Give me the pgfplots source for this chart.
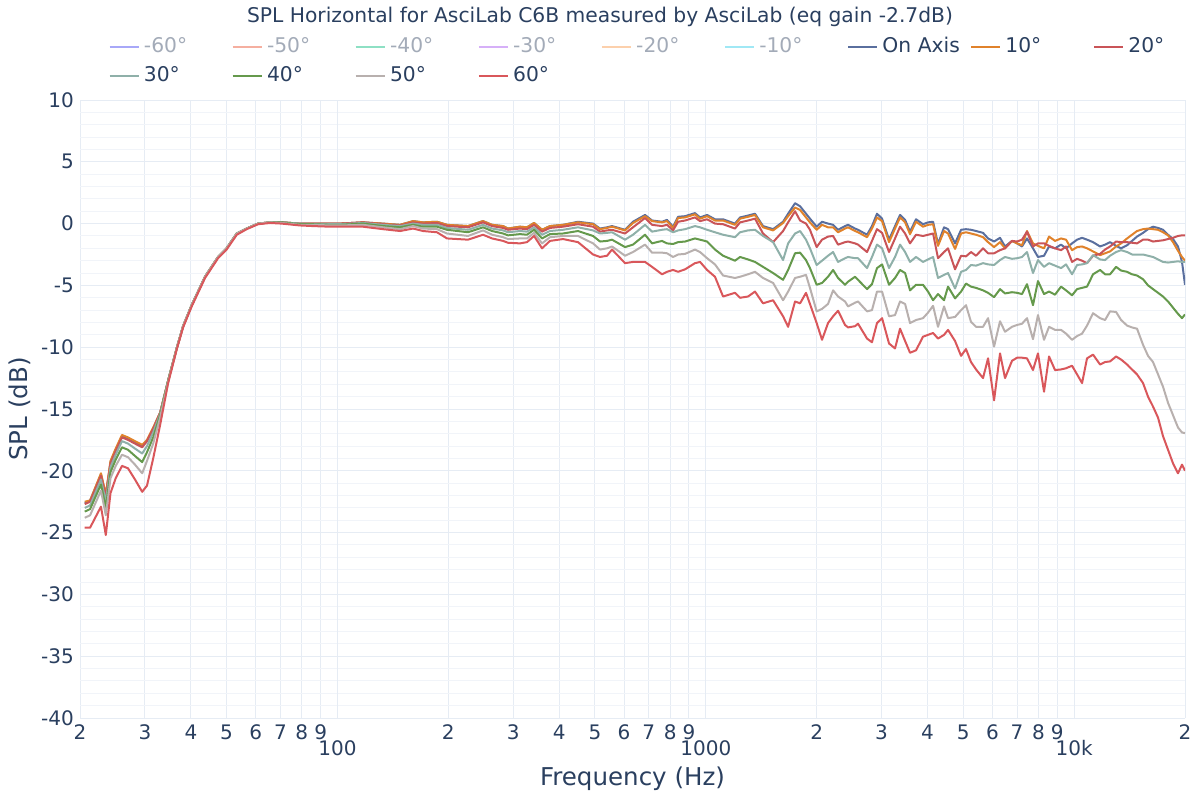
\documentclass[border=0pt]{standalone}
\usepackage{fontspec}
\setmainfont{DejaVu Sans}
\usepackage{pgfplots}
\usepackage{pgfplotstable}
\pgfplotsset{compat=1.18}

\definecolor{txt}{HTML}{2A3F5F}
\definecolor{hid}{HTML}{A3ABB8}
\definecolor{gridc}{HTML}{E6ECF4}
\definecolor{gridm}{HTML}{F1F4F9}
\definecolor{c0}{HTML}{5A6F9E}
\definecolor{c10}{HTML}{E0822B}
\definecolor{c20}{HTML}{C95458}
\definecolor{c30}{HTML}{8FB0A9}
\definecolor{c40}{HTML}{65994C}
\definecolor{c50}{HTML}{B8B0AE}
\definecolor{c60}{HTML}{D9575B}
\definecolor{h60}{HTML}{A8A8F8}
\definecolor{h50}{HTML}{F5AFA0}
\definecolor{h40}{HTML}{8EE0C4}
\definecolor{h30}{HTML}{D6B0F8}
\definecolor{h20}{HTML}{FCD0AC}
\definecolor{h10}{HTML}{A0E8F5}

% SPL (dB) per angle
\pgfplotstableread{
f on d10 d20 d30 d40 d50 d60
20.6 -22.6 -22.5 -22.7 -23.0 -23.3 -23.8 -24.6
21.3 -22.4 -22.4 -22.5 -22.8 -23.1 -23.6 -24.6
22.8 -20.3 -20.2 -20.4 -20.7 -21.1 -21.6 -22.9
23.5 -22.0 -21.9 -22.1 -22.5 -23.0 -23.6 -25.2
24.2 -19.3 -19.2 -19.4 -19.7 -20.1 -20.6 -21.8
25.0 -18.3 -18.2 -18.4 -18.7 -19.1 -19.6 -20.6
26.0 -17.2 -17.1 -17.3 -17.6 -18.1 -18.7 -19.6
27.0 -17.4 -17.3 -17.5 -17.8 -18.3 -18.9 -19.8
28.2 -17.7 -17.6 -17.8 -18.2 -18.8 -19.5 -20.7
29.5 -18.0 -17.9 -18.1 -18.6 -19.3 -20.2 -21.7
30.4 -17.6 -17.5 -17.6 -18.0 -18.5 -19.2 -21.2
31.6 -16.6 -16.5 -16.6 -16.9 -17.3 -17.8 -19.0
33.0 -15.3 -15.3 -15.3 -15.4 -15.5 -15.7 -16.3
34.7 -12.7 -12.7 -12.7 -12.7 -12.7 -12.8 -12.9
36.6 -10.1 -10.1 -10.1 -10.1 -10.1 -10.1 -10.2
38.1 -8.3 -8.3 -8.3 -8.3 -8.3 -8.3 -8.4
40.2 -6.6 -6.6 -6.6 -6.6 -6.6 -6.6 -6.7
43.7 -4.3 -4.3 -4.3 -4.3 -4.3 -4.3 -4.4
47.4 -2.7 -2.7 -2.7 -2.7 -2.7 -2.7 -2.8
50.0 -2.0 -2.0 -2.0 -2.0 -2.0 -2.0 -2.1
53.3 -0.8 -0.8 -0.8 -0.8 -0.8 -0.8 -0.9
56.7 -0.4 -0.4 -0.4 -0.4 -0.4 -0.4 -0.45
60.9 0.0 0.0 0.0 0.0 0.0 0.0 -0.05
65.6 0.1 0.1 0.1 0.1 0.1 0.1 0.05
70.6 0.1 0.1 0.1 0.1 0.1 0.05 0.0
79.1 0.0 0.0 0.0 0.0 -0.05 -0.1 -0.15
85.8 0.0 0.0 0.0 -0.05 -0.05 -0.1 -0.2
95.4 0.0 0.0 0.0 -0.05 -0.1 -0.15 -0.25
101.6 0.0 0.0 0.0 -0.05 -0.1 -0.15 -0.25
117.3 0.1 0.1 0.1 0.05 0.0 -0.1 -0.25
132.9 0.0 0.0 -0.05 -0.1 -0.2 -0.3 -0.45
147.9 -0.1 -0.1 -0.15 -0.2 -0.3 -0.45 -0.6
160.4 0.2 0.2 0.1 0.0 -0.1 -0.2 -0.4
170.7 0.1 0.1 0.0 -0.1 -0.25 -0.4 -0.6
186.3 0.15 0.15 0.05 -0.1 -0.25 -0.45 -0.7
198.3 -0.1 -0.1 -0.2 -0.35 -0.5 -0.8 -1.2
226.2 -0.2 -0.2 -0.3 -0.5 -0.7 -1.0 -1.3
248.4 0.2 0.2 0.1 -0.1 -0.3 -0.55 -0.9
262.8 -0.1 -0.1 -0.2 -0.4 -0.6 -0.9 -1.2
281.6 -0.2 -0.2 -0.35 -0.55 -0.8 -1.1 -1.4
290.4 -0.4 -0.4 -0.5 -0.7 -0.95 -1.25 -1.55
313.0 -0.25 -0.25 -0.4 -0.6 -0.85 -1.2 -1.6
327.0 -0.3 -0.3 -0.45 -0.65 -0.9 -1.2 -1.5
341.8 0.05 0.05 -0.1 -0.3 -0.5 -0.75 -1.0
359.3 -0.5 -0.5 -0.65 -0.9 -1.2 -1.6 -2.0
377.6 -0.2 -0.2 -0.35 -0.6 -0.85 -1.1 -1.4
409.6 -0.1 -0.1 -0.25 -0.5 -0.8 -1.0 -1.25
449.8 0.15 0.1 -0.05 -0.3 -0.6 -1.0 -1.5
494.2 0.0 -0.05 -0.25 -0.55 -1.0 -1.6 -2.5
516.2 -0.4 -0.45 -0.65 -0.8 -1.45 -2.1 -2.7
539.4 -0.3 -0.35 -0.55 -0.75 -1.4 -2.0 -2.6
556.4 -0.2 -0.25 -0.5 -0.7 -1.3 -1.85 -2.1
603.6 -0.5 -0.55 -0.8 -1.3 -1.9 -2.6 -3.2
634.4 0.15 0.05 -0.3 -0.9 -1.7 -2.3 -3.1
684.0 0.7 0.6 0.45 -0.1 -0.9 -1.7 -3.1
714.6 0.25 0.2 -0.1 -0.65 -1.6 -2.35 -3.5
760.6 0.15 0.1 -0.2 -0.5 -1.4 -2.35 -4.1
784.8 0.3 0.2 -0.1 -0.45 -1.6 -2.4 -3.9
814.8 -0.25 -0.35 -0.55 -0.7 -1.65 -2.7 -3.75
840.8 0.55 0.45 0.15 -0.55 -1.5 -2.5 -3.9
878.4 0.6 0.5 0.25 -0.45 -1.45 -2.45 -3.7
934.6 0.85 0.75 0.5 -0.2 -1.2 -2.1 -3.2
964.6 0.5 0.4 0.2 -0.3 -1.3 -2.3 -3.1
1008 0.7 0.6 0.35 -0.5 -1.45 -2.8 -3.75
1059 0.35 0.25 0.0 -0.7 -2.1 -3.3 -4.3
1114 0.35 0.25 -0.05 -0.9 -2.6 -4.2 -5.9
1200 0.0 -0.1 -0.4 -1.1 -3.0 -4.4 -5.6
1239 0.5 0.4 0.1 -0.7 -2.7 -4.3 -6.0
1302 0.65 0.55 0.25 -0.55 -2.9 -4.1 -5.9
1360 0.8 0.7 0.4 -0.5 -3.1 -3.9 -5.5
1430 -0.2 -0.3 -0.8 -1.0 -3.5 -4.4 -6.45
1523 -0.45 -0.55 -1.5 -1.5 -4.0 -4.8 -6.2
1621 0.15 0.05 -0.6 -2.95 -4.55 -6.2 -7.5
1673 0.8 0.6 0.1 -1.6 -3.75 -5.5 -8.35
1747 1.65 1.3 1.0 -0.8 -2.4 -4.4 -6.3
1803 1.4 1.1 0.25 -0.6 -2.35 -4.3 -6.45
1871 0.8 0.5 0.0 -1.3 -2.95 -4.15 -5.6
1918 0.4 0.1 -0.5 -2.0 -3.6 -5.2 -6.5
2000 -0.25 -0.5 -1.9 -3.35 -4.95 -7.1 -8.05
2068 0.15 -0.1 -1.3 -3.0 -4.8 -6.9 -9.4
2147 0.0 -0.3 -1.05 -2.6 -4.3 -6.5 -8.05
2216 -0.1 -0.3 -1.0 -2.3 -3.75 -5.4 -7.5
2286 -0.5 -0.7 -1.7 -3.1 -4.4 -5.9 -7.05
2388 -0.2 -0.4 -1.5 -2.8 -4.95 -6.3 -8.2
2433 -0.1 -0.3 -1.45 -2.7 -4.7 -6.7 -8.4
2542 -0.4 -0.6 -1.6 -2.8 -4.3 -6.4 -8.3
2590 -0.5 -0.7 -1.7 -2.8 -4.55 -6.3 -8.1
2740 -0.9 -1.1 -2.3 -3.6 -5.3 -7.1 -9.3
2826 -0.2 -0.4 -1.4 -2.7 -4.9 -7.0 -9.6
2916 0.8 0.5 -0.45 -1.7 -3.6 -5.5 -8.05
3010 0.4 0.2 -0.75 -2.0 -3.3 -5.5 -7.65
3144 -1.3 -1.5 -2.3 -3.6 -4.95 -7.5 -9.7
3264 -0.2 -0.4 -1.2 -2.7 -4.4 -7.4 -10.1
3368 0.7 0.5 -0.25 -1.7 -3.75 -6.3 -8.5
3476 0.3 0.1 -0.8 -2.3 -4.0 -6.5 -9.5
3585 -0.65 -0.85 -1.6 -3.1 -5.4 -8.05 -10.45
3722 0.35 0.15 -0.9 -2.7 -4.95 -7.8 -10.25
3888 -0.05 -0.25 -1.0 -3.1 -4.95 -7.65 -9.15
4012 0.1 -0.1 -0.9 -2.9 -5.5 -7.2 -9.0
4140 0.15 -0.05 -0.8 -2.7 -6.2 -6.65 -8.85
4270 -1.65 -1.8 -2.8 -4.4 -5.7 -8.35 -9.3
4434 -0.3 -0.6 -2.3 -4.15 -6.2 -6.7 -9.0
4546 -0.45 -0.8 -2.0 -4.0 -5.1 -7.65 -8.6
4750 -1.6 -2.05 -3.7 -5.25 -6.05 -7.55 -9.5
4932 -0.5 -0.8 -2.6 -3.9 -5.5 -7.0 -10.7
5086 -0.45 -0.7 -2.65 -3.75 -4.85 -6.6 -10.15
5248 -0.5 -0.8 -2.3 -3.35 -5.1 -7.95 -11.2
5416 -0.6 -0.9 -2.6 -3.4 -5.2 -8.35 -11.8
5658 -0.75 -1.1 -2.0 -3.2 -5.4 -8.35 -12.5
5838 -1.2 -1.5 -2.4 -3.3 -5.6 -7.65 -10.9
6062 -1.45 -1.9 -2.4 -3.35 -5.95 -9.95 -14.3
6292 -1.15 -1.5 -2.15 -2.95 -5.3 -7.9 -10.5
6492 -1.85 -2.0 -2.0 -2.7 -5.65 -8.75 -12.5
6782 -1.4 -1.4 -1.4 -2.85 -5.55 -8.35 -11.1
6998 -1.6 -1.6 -1.45 -2.8 -5.6 -8.2 -10.85
7220 -1.85 -1.75 -1.3 -2.7 -5.7 -8.1 -10.85
7448 -1.2 -0.6 -0.65 -2.3 -4.9 -7.65 -10.9
7732 -2.0 -1.6 -1.85 -4.0 -6.6 -9.35 -11.85
7978 -2.7 -1.8 -1.6 -2.95 -4.65 -7.4 -10.5
8284 -2.6 -2.0 -1.6 -3.5 -5.7 -9.4 -13.6
8548 -1.85 -1.05 -1.8 -3.2 -5.5 -8.35 -10.75
8874 -2.0 -1.4 -2.0 -3.4 -5.75 -8.6 -11.85
9214 -1.7 -1.2 -2.15 -3.6 -5.1 -8.6 -11.8
9506 -2.0 -1.3 -1.85 -3.3 -5.4 -8.9 -11.7
9870 -1.6 -2.15 -3.1 -4.1 -5.8 -9.4 -11.5
10184 -1.3 -1.9 -2.85 -3.35 -5.3 -9.1 -12.2
10508 -1.15 -1.85 -3.0 -3.3 -5.2 -8.9 -12.9
10840 -1.3 -2.0 -3.2 -3.2 -5.1 -8.25 -10.9
11254 -1.5 -2.25 -2.6 -2.55 -4.1 -7.25 -10.6
11760 -1.85 -2.55 -2.45 -2.9 -3.75 -7.65 -11.4
12132 -1.7 -2.4 -2.1 -2.95 -4.1 -7.8 -11.2
12518 -1.5 -2.25 -1.85 -2.6 -4.1 -7.1 -11.15
12998 -1.8 -1.85 -1.45 -2.3 -3.5 -7.15 -10.75
13412 -2.0 -1.6 -1.5 -2.15 -3.8 -7.8 -11.0
13924 -1.75 -1.2 -1.5 -2.3 -3.9 -8.25 -11.4
14360 -1.4 -0.9 -1.55 -2.5 -4.1 -8.4 -11.8
14816 -1.05 -0.6 -1.6 -2.5 -4.2 -8.5 -12.2
15382 -0.75 -0.45 -1.3 -2.5 -4.5 -9.8 -12.9
15872 -0.45 -0.4 -1.3 -2.6 -5.0 -10.7 -14.0
16374 -0.25 -0.45 -1.45 -2.7 -5.3 -11.2 -14.8
16896 -0.35 -0.5 -1.4 -2.9 -5.6 -12.2 -15.7
17432 -0.5 -0.7 -1.35 -3.1 -5.9 -13.2 -17.2
17986 -0.9 -0.95 -1.25 -3.15 -6.3 -14.5 -18.3
18556 -1.25 -1.5 -1.15 -3.1 -6.8 -15.5 -19.4
19144 -1.85 -2.2 -1.0 -3.05 -7.3 -16.5 -20.2
19630 -3.1 -2.7 -0.95 -3.1 -7.65 -16.9 -19.5
20000 -4.95 -3.0 -0.95 -3.1 -7.35 -16.95 -20.0
}\spl

\begin{document}
\begin{tikzpicture}
\useasboundingbox (-60pt,-61.5pt) rectangle (840pt,538.5pt);
\begin{axis}[
  scale only axis,
  width=828.75pt, height=463.5pt,
  xmode=log, xmin=20, xmax=20000,
  ymin=-40, ymax=10,
  xtick={20,30,40,50,60,70,80,90,200,300,400,500,600,700,800,900,2000,3000,4000,5000,6000,7000,8000,9000,20000},
  xticklabels={2,3,4,5,6,7,8,9,2,3,4,5,6,7,8,9,2,3,4,5,6,7,8,9,2},
  extra x ticks={100,1000,10000},
  extra x tick labels={100,1000,10k},
  extra x tick style={xticklabel style={yshift=-11.5pt}},
  ytick={-40,-35,-30,-25,-20,-15,-10,-5,0,5,10},
  yticklabels={-40,-35,-30,-25,-20,-15,-10,-5,0,5,10},
  minor y tick num=4,
  xmajorgrids, ymajorgrids, yminorgrids,
  major grid style={gridc, line width=0.75pt},
  minor grid style={gridm, line width=0.75pt},
  axis line style={draw=none},
  major tick length=0pt, minor tick length=0pt,
  tick style={draw=none},
  xticklabel style={font=\fontsize{15}{17}\selectfont, text=txt, anchor=north, inner sep=0pt, yshift=-5pt},
  yticklabel style={font=\fontsize{15}{17}\selectfont, text=txt, anchor=east, inner sep=0pt, xshift=-4.5pt},
  xlabel={Frequency (Hz)},
  ylabel={SPL (dB)},
  xlabel style={font=\fontsize{18.4}{21}\selectfont, text=txt, at={(rel axis cs:0.5,-0.0987)}, anchor=center},
  ylabel style={font=\fontsize{18.4}{21}\selectfont, text=txt, at={(rel axis cs:-0.0545,0.5)}, anchor=center, rotate=0},
  title={SPL Horizontal for AsciLab C6B measured by AsciLab (eq gain -2.7dB)},
  title style={font=\fontsize{15.2}{18}\selectfont, text=txt, at={(rel axis cs:0.4706,1)}, anchor=center, yshift=56.25pt},
  legend columns=9,
  legend style={draw=none, fill=none, at={(rel axis cs:0,1)}, anchor=north west,
    xshift=21.25pt, yshift=48pt, inner sep=0pt, row sep=5.25pt, column sep=0pt,
    font=\fontsize{15.2}{18}\selectfont, text=txt,
    nodes={text width=62.8pt, text height=11pt, text depth=3.5pt, inner xsep=3pt, inner ysep=1pt}},
  legend cell align=left,
  legend image code/.code={\draw[#1, line width=1.5pt] (0pt,0pt) -- (22pt,0pt);},
  every axis plot/.append style={line width=1.5pt, line join=round},
]
\addlegendimage{h60}\addlegendentry{\textcolor{hid}{-60°}}
\addlegendimage{h50}\addlegendentry{\textcolor{hid}{-50°}}
\addlegendimage{h40}\addlegendentry{\textcolor{hid}{-40°}}
\addlegendimage{h30}\addlegendentry{\textcolor{hid}{-30°}}
\addlegendimage{h20}\addlegendentry{\textcolor{hid}{-20°}}
\addlegendimage{h10}\addlegendentry{\textcolor{hid}{-10°}}
\addplot[c0] table[x=f, y=on] {\spl}; \addlegendentry{On Axis}
\addplot[c10] table[x=f, y=d10] {\spl}; \addlegendentry{10°}
\addplot[c20] table[x=f, y=d20] {\spl}; \addlegendentry{20°}
\addplot[c30] table[x=f, y=d30] {\spl}; \addlegendentry{30°}
\addplot[c40] table[x=f, y=d40] {\spl}; \addlegendentry{40°}
\addplot[c50] table[x=f, y=d50] {\spl}; \addlegendentry{50°}
\addplot[c60] table[x=f, y=d60] {\spl}; \addlegendentry{60°}
\end{axis}
\end{tikzpicture}
\end{document}
